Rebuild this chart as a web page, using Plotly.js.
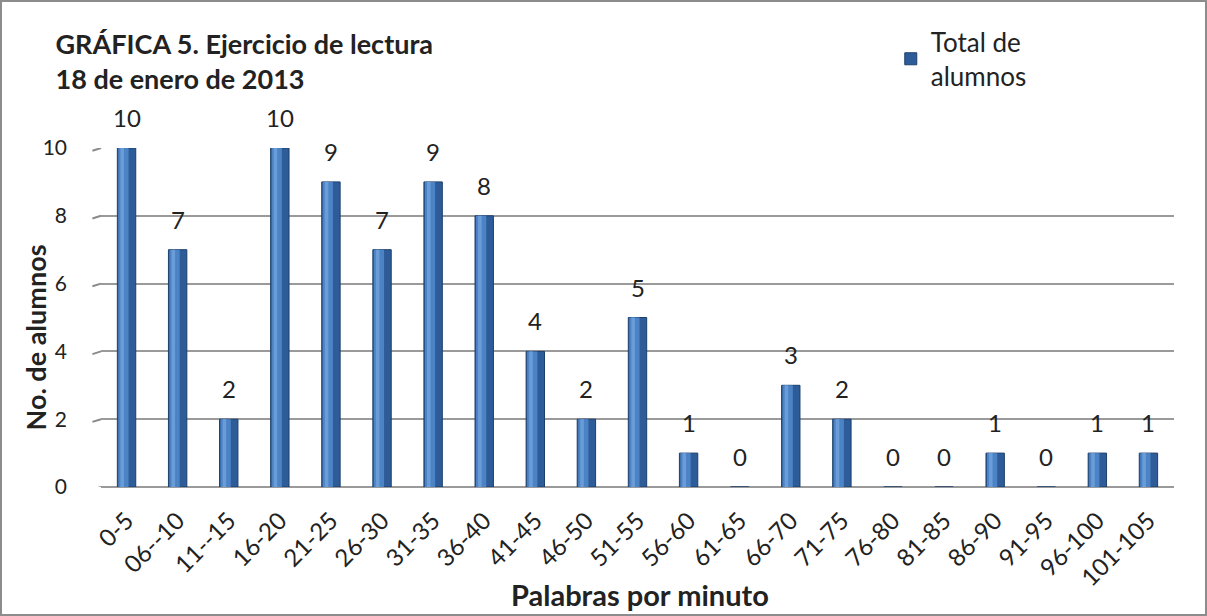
<!DOCTYPE html>
<html>
<head>
<meta charset="utf-8">
<script src="https://cdn.plot.ly/plotly-3.0.1.min.js"></script>
<style>
html,body{margin:0;padding:0;background:#fff;}
#frame{width:1207px;height:616px;box-sizing:border-box;border:2px solid #8c8c8c;position:relative;overflow:hidden;}
#chart{position:absolute;left:-2px;top:-2px;width:1207px;height:616px;}
</style>
</head>
<body>
<div id="frame"><div id="chart"></div></div>
<script>
const categories = ["0-5","06--10","11--15","16-20","21-25","26-30","31-35","36-40","41-45","46-50","51-55","56-60","61-65","66-70","71-75","76-80","81-85","86-90","91-95","96-100","101-105"];
const totalAlumnos = [10,7,2,10,9,7,9,8,4,2,5,1,0,3,2,0,0,1,0,1,1];
const yTicks = [0,2,4,6,8,10];
const seriesName = "Total de<br>alumnos";
const titleText = "<b>GRÁFICA 5. Ejercicio de lectura<br>18 de enero de 2013</b>";
const xTitle = "<b>Palabras por minuto</b>";
const yTitle = "<b>No. de alumnos</b>";

const font = "Lato, 'Open Sans', 'Noto Sans', sans-serif";

const traces = [
  {
    type: "bar", x: categories, y: totalAlumnos, name: seriesName,
    width: 0.36,
    marker: {color: "#2d5c98", line: {color: "#1d3f6b", width: 1}},
    showlegend: true, hoverinfo: "x+y"
  },
  {
    type: "bar", x: categories, y: totalAlumnos, name: "hl",
    width: 0.2, offset: -0.16,
    marker: {color: "#4c83c5", line: {width: 0}},
    showlegend: false, hoverinfo: "skip"
  },
  {
    type: "bar", x: categories, y: totalAlumnos, name: "hl2",
    width: 0.07, offset: -0.12,
    marker: {color: "#6a9cd8", line: {width: 0}},
    showlegend: false, hoverinfo: "skip"
  }
];

const annotations = categories.map((c, i) => ({
  x: c, y: totalAlumnos[i], xref: "x", yref: "y",
  text: String(totalAlumnos[i]), showarrow: false,
  yanchor: "bottom", yshift: 14,
  font: {family: font, size: 24, color: "#222"}
}));
annotations.push({
  xref: "paper", yref: "paper", x: 0.502, y: -0.375,
  text: xTitle, showarrow: false,
  font: {family: font, size: 29, color: "#222"}
});
annotations.push({
  xref: "paper", yref: "paper", x: 0, y: 0.5, xanchor: "center", yanchor: "middle",
  xshift: -66, yshift: -20,
  text: yTitle, showarrow: false, textangle: -90,
  font: {family: font, size: 27, color: "#222"}
});

// short slanted wall stubs at the left end of each gridline (3D look)
const shapes = yTicks.map(t => ({
  type: "line", xref: "paper", yref: "y",
  x0: -0.008, x1: 0.0, y0: t - 0.08, y1: t,
  line: {color: "#8a8a8a", width: 2}
}));

const layout = {
  width: 1207, height: 616,
  paper_bgcolor: "rgba(0,0,0,0)", plot_bgcolor: "rgba(0,0,0,0)",
  barmode: "overlay",
  margin: {l: 101, r: 33, t: 148, b: 129, autoexpand: false},
  title: {
    text: titleText, x: 0.046, xanchor: "left", y: 0.912, yanchor: "top",
    font: {family: font, size: 27, color: "#222"}
  },
  showlegend: true,
  legend: {
    x: 0.738, y: 0.97, xref: "container", yref: "container", xanchor: "left", yanchor: "top",
    font: {family: font, size: 26, color: "#222"},
    itemwidth: 30, bgcolor: "rgba(0,0,0,0)"
  },
  xaxis: {
    type: "category", tickangle: -45,
    tickfont: {family: font, size: 24, color: "#222"},
    showgrid: false, zeroline: false, showline: false, ticks: "",
    ticklabelstandoff: 14,
    fixedrange: true
  },
  yaxis: {
    range: [0, 10], tickvals: yTicks, ticktext: yTicks.map(String),
    tickfont: {family: font, size: 21, color: "#222"},
    showgrid: true, gridcolor: "#9a9a9a", gridwidth: 2,
    zeroline: true, zerolinecolor: "#9a9a9a", zerolinewidth: 2,
    showline: false, ticks: "", ticklabelstandoff: 33,
    fixedrange: true
  },
  shapes: shapes,
  annotations: annotations
};

Plotly.newPlot("chart", traces, layout, {displayModeBar: false, staticPlot: true});
</script>
</body>
</html>
